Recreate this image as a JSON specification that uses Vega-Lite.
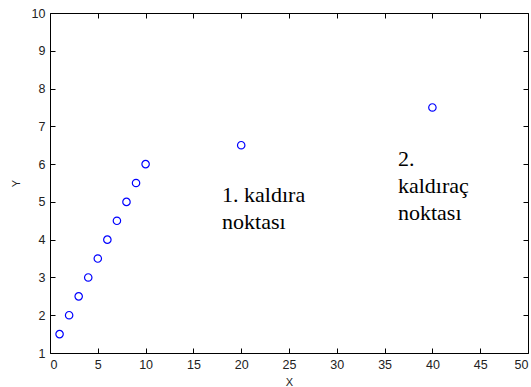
{
  "$schema": "https://vega.github.io/schema/vega-lite/v6.json",
  "width": 478,
  "height": 340,
  "autosize": {"type": "none"},
  "padding": {"left": 50, "top": 13, "right": 3, "bottom": 34},
  "background": "white",
  "config": {"view": {"stroke": null}, "axis": {"grid": false, "domainColor": "black", "tickColor": "black", "labelColor": "#222", "labelFont": "Liberation Sans", "labelFontSize": 12.5, "titleFont": "Liberation Sans", "titleFontSize": 11, "titleFontWeight": "normal", "titleColor": "#222", "tickSize": -5, "labelPadding": 10}},
  "datasets": {
    "pts": [
      {"x": 1, "y": 1.5}, {"x": 2, "y": 2}, {"x": 3, "y": 2.5}, {"x": 4, "y": 3},
      {"x": 5, "y": 3.5}, {"x": 6, "y": 4}, {"x": 7, "y": 4.5}, {"x": 8, "y": 5},
      {"x": 9, "y": 5.5}, {"x": 10, "y": 6}, {"x": 20, "y": 6.5}, {"x": 40, "y": 7.5}
    ],
    "labels": [
      {"x": 18, "y": 5.0, "label": "1. kaldıra\nnoktası"},
      {"x": 36.4, "y": 5.95, "label": "2.\nkaldıraç\nnoktası"}
    ]
  },
  "layer": [
    {
      "data": {"name": "pts"},
      "mark": {"type": "point", "shape": "circle", "filled": false, "color": "#0000ff", "size": 55, "strokeWidth": 1.2, "opacity": 1},
      "encoding": {
        "x": {"field": "x", "type": "quantitative", "scale": {"domain": [0, 50], "nice": false}, "axis": {"orient": "bottom", "title": "X", "values": [0,5,10,15,20,25,30,35,40,45,50], "titlePadding": 6}},
        "y": {"field": "y", "type": "quantitative", "scale": {"domain": [1, 10], "nice": false, "zero": false}, "axis": {"orient": "left", "title": "Y", "values": [1,2,3,4,5,6,7,8,9,10], "titlePadding": 10}}
      }
    },
    {
      "data": {"name": "pts"},
      "mark": {"type": "point", "opacity": 0},
      "encoding": {
        "x": {"field": "x", "type": "quantitative", "scale": {"domain": [0, 50], "nice": false}, "axis": {"orient": "top", "title": null, "labels": false, "values": [0,5,10,15,20,25,30,35,40,45,50]}},
        "y": {"field": "y", "type": "quantitative", "scale": {"domain": [1, 10], "nice": false, "zero": false}, "axis": {"orient": "right", "title": null, "labels": false, "values": [1,2,3,4,5,6,7,8,9,10]}}
      }
    },
    {
      "data": {"name": "labels"},
      "mark": {"type": "text", "align": "left", "baseline": "alphabetic", "font": "Liberation Serif", "fontSize": 22, "lineBreak": "\n", "lineHeight": 27, "color": "black"},
      "encoding": {
        "x": {"field": "x", "type": "quantitative", "scale": {"domain": [0, 50], "nice": false}, "axis": null},
        "y": {"field": "y", "type": "quantitative", "scale": {"domain": [1, 10], "nice": false, "zero": false}, "axis": null},
        "text": {"field": "label"}
      }
    }
  ],
  "resolve": {"axis": {"x": "independent", "y": "independent"}}
}
